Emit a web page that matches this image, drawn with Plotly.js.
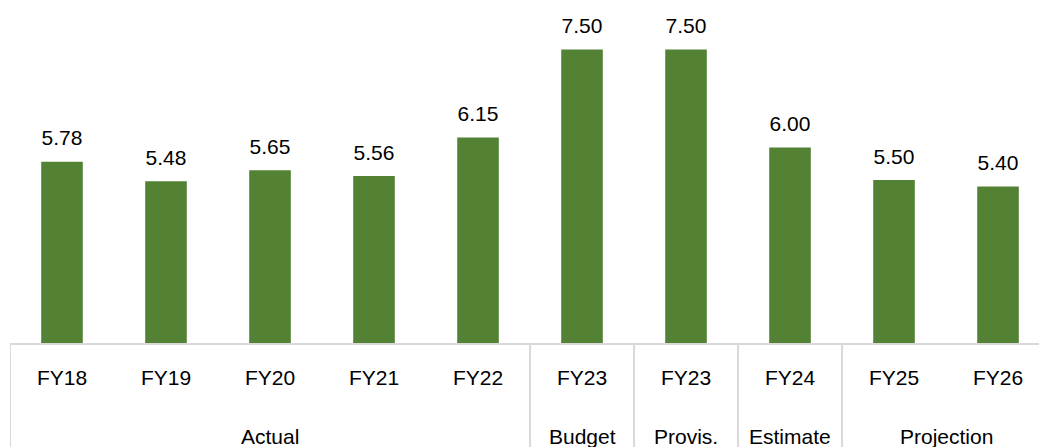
<!DOCTYPE html>
<html>
<head>
<meta charset="utf-8">
<script src="https://cdn.plot.ly/plotly-3.0.1.min.js"></script>
<style>
html, body { margin: 0; padding: 0; background: #ffffff; overflow: hidden; }
#chart { width: 1039px; height: 447px; }
</style>
</head>
<body>
<div id="chart"></div>
<script>
const groups = ["Actual", "Actual", "Actual", "Actual", "Actual", "Budget", "Provis.", "Estimate", "Projection", "Projection"];
const years = ["FY18", "FY19", "FY20", "FY21", "FY22", "FY23", "FY23", "FY24", "FY25", "FY26"];
const values = [5.78, 5.48, 5.65, 5.56, 6.15, 7.50, 7.50, 6.00, 5.50, 5.40];

const fontFamily = "'Liberation Sans', Arial, sans-serif";
const idx = years.map((_, i) => i);

// group spans derived from the groups array
const spans = [];
groups.forEach((g, i) => {
  if (i === 0 || groups[i - 1] !== g) spans.push({ name: g, start: i, end: i });
  else spans[spans.length - 1].end = i;
});

const bars = {
  type: "bar",
  x: idx,
  y: values,
  marker: { color: "#548235" },
  hoverinfo: "skip"
};

const labels = {
  type: "scatter",
  mode: "markers+text",
  x: idx,
  y: values,
  marker: { size: 16, color: "rgba(0,0,0,0)" },
  text: values.map(v => v.toFixed(2)),
  textposition: "top center",
  textfont: { family: fontFamily, size: 21, color: "#000000" },
  cliponaxis: false,
  hoverinfo: "skip"
};

const dividers = spans.map(s => ({
  type: "line",
  xref: "x", yref: "paper",
  x0: s.start - 0.5, x1: s.start - 0.5,
  y0: 0, y1: -0.4,
  line: { color: "#d9d9d9", width: 2 }
}));

const groupAnnotations = spans.map(s => ({
  xref: "x", yref: "paper",
  x: (s.start + s.end) / 2, y: 0,
  yanchor: "middle",
  yshift: -93,
  text: s.name,
  showarrow: false,
  font: { family: fontFamily, size: 21, color: "#000000" }
}));

const layout = {
  width: 1039,
  height: 447,
  margin: { l: 10, r: 0, t: 17, b: 104 },
  paper_bgcolor: "#ffffff",
  plot_bgcolor: "#ffffff",
  showlegend: false,
  bargap: 0.6,
  font: { family: fontFamily, size: 21, color: "#000000" },
  xaxis: {
    range: [-0.5, 9.394],
    tickvals: idx,
    ticktext: years,
    showline: true,
    linecolor: "#d9d9d9",
    linewidth: 2,
    ticks: "",
    ticklabelstandoff: 15,
    showgrid: false,
    zeroline: false,
    tickfont: { family: fontFamily, size: 21, color: "#000000" }
  },
  yaxis: {
    range: [3, 8],
    visible: false,
    showgrid: false,
    zeroline: false
  },
  shapes: dividers,
  annotations: groupAnnotations
};

Plotly.newPlot("chart", [bars, labels], layout, { displayModeBar: false, staticPlot: true });
</script>
</body>
</html>
